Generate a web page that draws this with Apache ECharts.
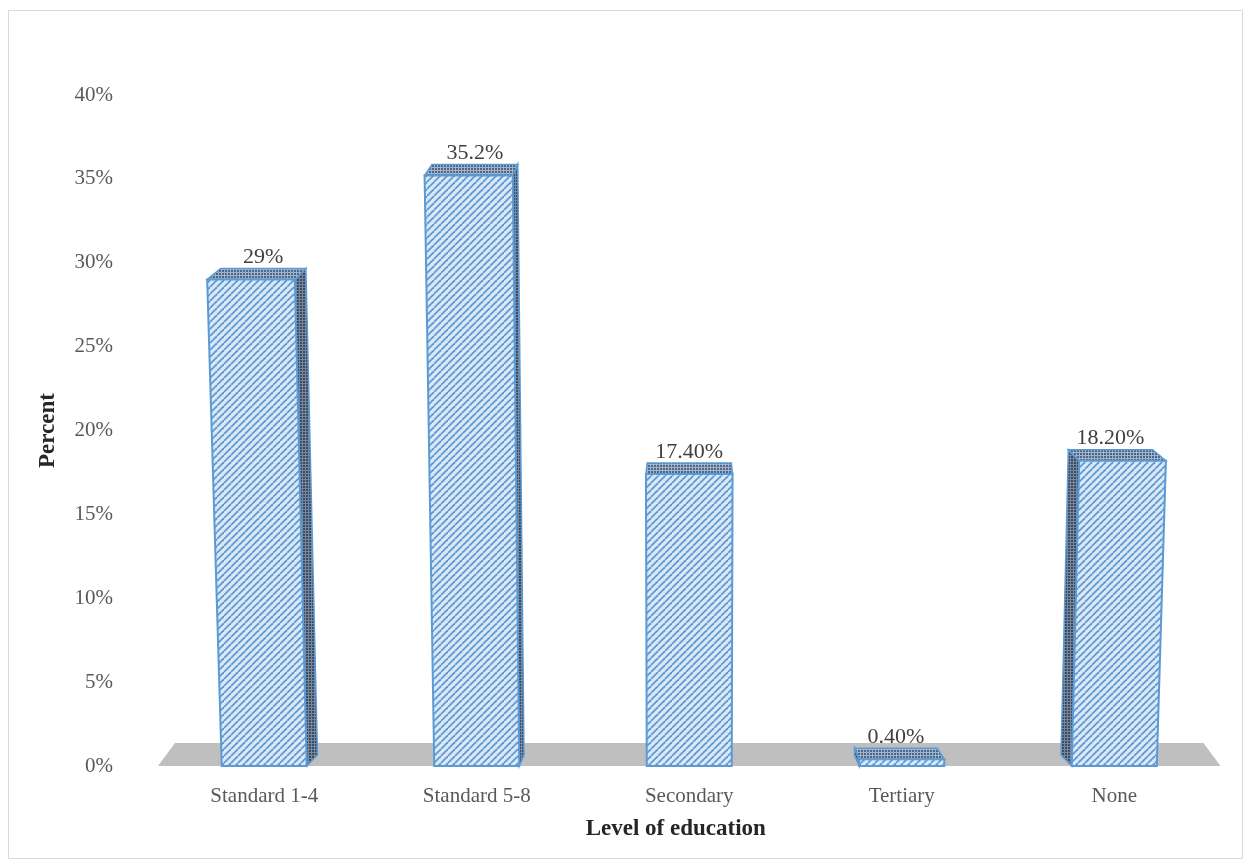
<!DOCTYPE html>
<html>
<head>
<meta charset="utf-8">
<script src="https://cdn.jsdelivr.net/npm/echarts@6/dist/echarts.min.js"></script>
<style>
  html, body { margin: 0; padding: 0; background: #ffffff; }
  #chart { width: 1250px; height: 867px; }
</style>
</head>
<body>
<div id="chart"></div>
<script>
// Level of education (share of respondents, %)
const categories = ['Standard 1-4', 'Standard 5-8', 'Secondary', 'Tertiary', 'None'];
const percentValues = [29, 35.2, 17.4, 0.4, 18.2];
const valueLabels = ['29%', '35.2%', '17.40%', '0.40%', '18.20%'];
const yMin = 0, yMax = 40, yStep = 5;

const FONT = '"Liberation Serif", "Times New Roman", serif';

// Tiled fills for the faces of the boxes
function hatchPattern(bg, lineColor, size, width) {
  const c = document.createElement('canvas');
  c.width = size; c.height = size;
  const g = c.getContext('2d');
  g.fillStyle = bg; g.fillRect(0, 0, size, size);
  g.strokeStyle = lineColor; g.lineWidth = width;
  for (let k = -size; k <= size; k += size) {
    g.beginPath(); g.moveTo(k, size); g.lineTo(k + size, 0); g.stroke();
  }
  return { image: c, repeat: 'repeat' };
}
function dotPattern(bg, dot, size) {
  const c = document.createElement('canvas');
  c.width = size; c.height = size;
  const g = c.getContext('2d');
  g.fillStyle = bg; g.fillRect(0, 0, size, size);
  g.fillStyle = dot; g.fillRect(0, 0, 2, 2);
  return { image: c, repeat: 'repeat' };
}
const frontFill = hatchPattern('#dae8f6', '#5f98d2', 7, 1.8);
const topFill = dotPattern('#a0b4ca', '#4f6688', 3);
const sideFill = dotPattern('#76879e', '#3a4b63', 3);
const EDGE = '#5b9bd5';

// perspective helpers: vertical edges lean outward from the centre line,
// the far side of each box recedes toward the centre and upward
function spreadPoint(x, y, cx, baseY) {
  return [cx + (x - cx) * (1 + (baseY - y) / 15600), y];
}
function backPoint(p, cx) {
  return [p[0] - (p[0] - cx) * 0.028, p[1] - 11];
}

function renderFloor(params, api) {
  const cs = params.coordSys;
  const cx = cs.x + cs.width / 2;
  const baseY = cs.y + cs.height;
  const l = cs.x, r = cs.x + cs.width;
  const shrink = x => x - (x - cx) * 0.032;
  return {
    type: 'polygon',
    shape: { points: [[l, baseY], [r, baseY], [shrink(r), baseY - 23], [shrink(l), baseY - 23]] },
    style: { fill: '#bfbfbf', stroke: null }
  };
}

function renderBox(params, api) {
  const cs = params.coordSys;
  const cx = cs.x + cs.width / 2;
  const baseY = cs.y + cs.height;
  const i = api.value(0);
  const top = api.coord([i, api.value(1)]);
  const bw = api.size([1, 0])[0] * 0.4;
  const xl = top[0] - bw / 2, xr = top[0] + bw / 2, yt = top[1];

  const fbl = spreadPoint(xl, baseY, cx, baseY);
  const fbr = spreadPoint(xr, baseY, cx, baseY);
  const ftl = spreadPoint(xl, yt, cx, baseY);
  const ftr = spreadPoint(xr, yt, cx, baseY);
  const btl = backPoint(ftl, cx);
  const btr = backPoint(ftr, cx);

  const children = [];
  const mid = (xl + xr) / 2;
  if (mid < cx - 20) {
    children.push({
      type: 'polygon',
      shape: { points: [fbr, ftr, btr, backPoint(fbr, cx)] },
      style: { fill: sideFill, stroke: EDGE, lineWidth: 1.5 }
    });
  } else if (mid > cx + 20) {
    children.push({
      type: 'polygon',
      shape: { points: [fbl, ftl, btl, backPoint(fbl, cx)] },
      style: { fill: sideFill, stroke: EDGE, lineWidth: 1.5 }
    });
  }
  children.push({
    type: 'polygon',
    shape: { points: [ftl, ftr, btr, btl] },
    style: { fill: topFill, stroke: EDGE, lineWidth: 1.5 }
  });
  children.push({
    type: 'polygon',
    shape: { points: [fbl, fbr, ftr, ftl] },
    style: { fill: frontFill, stroke: EDGE, lineWidth: 2 }
  });
  children.push({
    type: 'text',
    style: {
      x: (btl[0] + btr[0]) / 2,
      y: Math.min(btl[1], btr[1]) - 11,
      text: valueLabels[i],
      fill: '#404040',
      font: '22px ' + FONT,
      align: 'center',
      verticalAlign: 'middle'
    }
  });
  return { type: 'group', children };
}

const chart = echarts.init(document.getElementById('chart'), null, { renderer: 'canvas' });
chart.setOption({
  animation: false,
  backgroundColor: '#ffffff',
  graphic: [{
    type: 'rect',
    shape: { x: 8.5, y: 10.5, width: 1234, height: 848 },
    style: { fill: null, stroke: '#d9d9d9', lineWidth: 1 },
    silent: true, z: -10
  }],
  grid: { left: 158, top: 95, width: 1062.5, height: 671 },
  xAxis: {
    type: 'category',
    data: categories,
    axisLine: { show: false },
    axisTick: { show: false },
    axisLabel: { margin: 20, fontSize: 21, color: '#595959', fontFamily: FONT },
    name: 'Level of education',
    nameLocation: 'middle',
    nameGap: 52,
    nameTextStyle: { fontSize: 23, fontWeight: 'bold', color: '#262626', fontFamily: FONT, padding: [0, 27, 0, 0] }
  },
  yAxis: {
    type: 'value',
    min: yMin, max: yMax, interval: yStep,
    axisLine: { show: false },
    axisTick: { show: false },
    splitLine: { show: false },
    axisLabel: { margin: 45, fontSize: 21, color: '#595959', fontFamily: FONT, formatter: '{value}%' },
    name: 'Percent',
    nameLocation: 'middle',
    nameGap: 98,
    nameRotate: 90,
    nameTextStyle: { fontSize: 23, fontWeight: 'bold', color: '#262626', fontFamily: FONT }
  },
  series: [
    {
      type: 'custom',
      name: 'floor',
      coordinateSystem: 'cartesian2d',
      data: [[0, 0]],
      renderItem: renderFloor,
      z: 1,
      silent: true
    },
    {
      type: 'custom',
      name: 'Percent',
      coordinateSystem: 'cartesian2d',
      encode: { x: 0, y: 1 },
      data: percentValues.map((v, i) => [i, v]),
      renderItem: renderBox,
      z: 2
    }
  ]
});
</script>
</body>
</html>
